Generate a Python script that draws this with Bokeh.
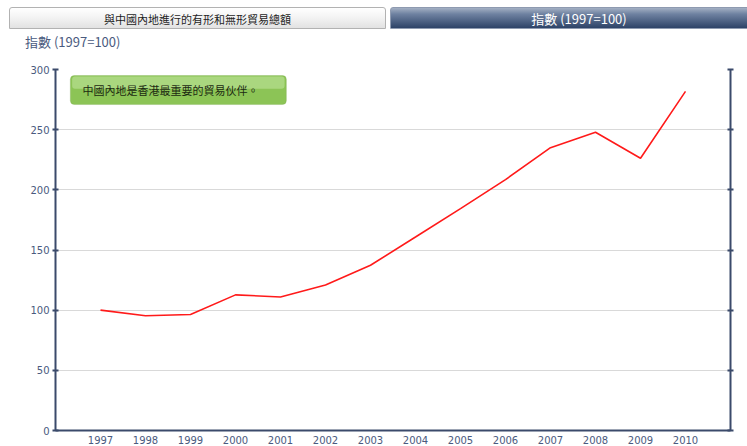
from bokeh.plotting import figure
from bokeh.layouts import column
from bokeh.models import Range1d, LinearAxis, FixedTicker, BoxAnnotation, Label, Div
from bokeh.embed import file_html
from bokeh.resources import INLINE

# ---- data ----
years = [1997, 1998, 1999, 2000, 2001, 2002, 2003, 2004, 2005, 2006, 2007, 2008, 2009, 2010]
index_values = [100.0, 95.3, 96.4, 112.7, 111.0, 120.9, 137.3, 160.8, 184.4, 208.5, 235.0, 247.8, 226.2, 281.8]
y_ticks = [0, 50, 100, 150, 200, 250, 300]
tab_left_label = "與中國內地進行的有形和無形貿易總額"
tab_right_label = "指數 (1997=100)"
axis_title = "指數 (1997=100)"
note_text = "中國內地是香港最重要的貿易伙伴。"

CJK = "Noto Sans CJK TC"
NUM = "DejaVu Sans"
AXIS_COLOR = "#3b4a6b"
LABEL_COLOR = "#4a5a7e"

W = 747
HDR_H = 55
MAIN_H = 446 - HDR_H

# ---- header: tabs + axis title ----
header_html = f"""
<div style="position:relative;width:{W}px;height:{HDR_H}px;overflow:hidden;font-family:'{CJK}';background:#ffffff;">
  <div style="position:absolute;left:9px;top:7px;width:377px;height:22px;border:1px solid #b2b2b2;
       border-radius:3px 3px 0 0;background:linear-gradient(#ffffff,#f4f4f4 45%,#e2e2e2);
       text-align:center;line-height:22px;font-size:11px;color:#1e1e1e;">{tab_left_label}</div>
  <div style="position:absolute;left:390px;top:7px;width:378px;height:22px;border:1px solid #8e9ab0;
       border-radius:3px 3px 0 0;background:linear-gradient(#a3afc3,#6f82a1 30%,#2d4367);
       text-align:center;line-height:22px;font-size:13px;color:#ffffff;">{tab_right_label}</div>
  <div style="position:absolute;left:25px;top:33px;font-size:13px;line-height:18px;color:{LABEL_COLOR};
       white-space:nowrap;">{axis_title}</div>
</div>
"""
hdr = Div(text=header_html, width=W, height=HDR_H, margin=(0, 0, 0, 0))

# ---- main chart ----
p = figure(width=W, height=MAIN_H, x_range=Range1d(1996, 2011), y_range=Range1d(0, 300),
           toolbar_location=None, output_backend="svg", margin=(0, 0, 0, 0),
           min_border_left=55, min_border_right=17, min_border_top=14, min_border_bottom=16)
p.outline_line_color = None
p.background_fill_color = "white"
p.border_fill_color = "white"
p.xgrid.visible = False
p.ygrid.grid_line_color = "#d9d9d9"
p.ygrid.grid_line_width = 1
p.ygrid.ticker = FixedTicker(ticks=y_ticks)

p.yaxis.ticker = FixedTicker(ticks=y_ticks)
p.yaxis.axis_line_color = AXIS_COLOR
p.yaxis.axis_line_width = 2
p.yaxis.major_tick_line_color = AXIS_COLOR
p.yaxis.major_tick_line_width = 2
p.yaxis.major_tick_in = 3
p.yaxis.major_tick_out = 3
p.yaxis.minor_tick_line_color = None
p.yaxis.major_label_standoff = 3
p.yaxis.major_label_text_font = NUM
p.yaxis.major_label_text_font_size = "10px"
p.yaxis.major_label_text_color = LABEL_COLOR

p.xaxis.ticker = FixedTicker(ticks=years)
p.xaxis.axis_line_color = AXIS_COLOR
p.xaxis.axis_line_width = 2
p.xaxis.major_tick_line_color = None
p.xaxis.major_tick_in = 0
p.xaxis.major_tick_out = 0
p.xaxis.minor_tick_line_color = None
p.xaxis.major_label_standoff = 5
p.xaxis.major_label_text_font = NUM
p.xaxis.major_label_text_font_size = "10px"
p.xaxis.major_label_text_color = LABEL_COLOR

# right axis: line + tick marks only (ticks drawn as minor ticks, so no labels)
right_axis = LinearAxis(ticker=FixedTicker(ticks=[], minor_ticks=y_ticks))
right_axis.axis_line_color = AXIS_COLOR
right_axis.axis_line_width = 2
right_axis.major_tick_line_color = None
right_axis.minor_tick_line_color = AXIS_COLOR
right_axis.minor_tick_line_width = 2
right_axis.minor_tick_in = 3
right_axis.minor_tick_out = 3
p.add_layout(right_axis, "right")

p.line(years, index_values, line_color="#ff1a1a", line_width=1.6)

# note box
p.add_layout(BoxAnnotation(left=1996.33, right=2001.13, top=295.0, bottom=270.9,
                           fill_color="#8cc456", fill_alpha=1.0, line_color="#7aa94f",
                           line_width=1, border_radius=4))
p.add_layout(BoxAnnotation(left=1996.37, right=2001.09, top=294.2, bottom=284.0,
                           fill_color="#b2dc8a", fill_alpha=0.8, line_color=None, border_radius=3))
p.add_layout(Label(x=1996.6, y=283.0, text=note_text, text_font=CJK, text_font_size="11px",
                   text_color="#1c2a12", text_baseline="middle", text_align="left"))

layout = column(hdr, p, spacing=0)

with open("out.html", "w") as f:
    f.write(file_html(layout, INLINE))
